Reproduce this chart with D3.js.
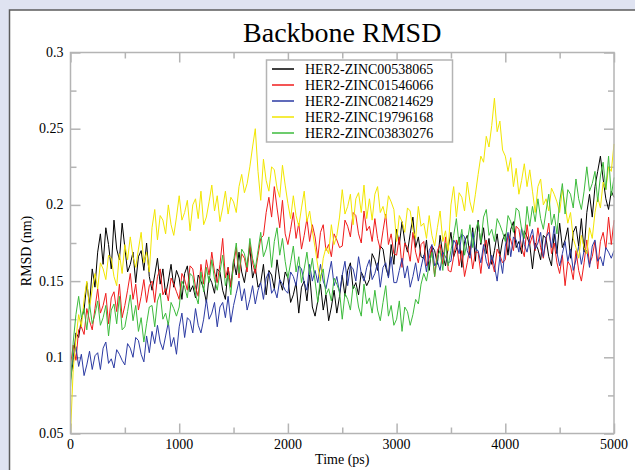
<!DOCTYPE html>
<html>
<head>
<meta charset="utf-8">
<title>Backbone RMSD</title>
<script src="https://cdn.jsdelivr.net/npm/d3@7"></script>
<style>
  body { margin: 0; background: #dfe3f1; }
</style>
</head>
<body>
<div id="chart"></div>
<script>
// sampling step of the traces (ps)
var step = 25;

var seriesNames = ["HER2-ZINC00538065", "HER2-ZINC01546066", "HER2-ZINC08214629",
                   "HER2-ZINC19796168", "HER2-ZINC03830276"];
var seriesColors = ["#000000", "#f01c1c", "#2b3aa3", "#f2e600", "#3cbb3c"];

var xTicks = [0, 1000, 2000, 3000, 4000, 5000];
var yTicks = [0.05, 0.1, 0.15, 0.2, 0.25, 0.3];

// RMSD (nm), one value every 25 ps, ten values per line (250 ps)
var rmsdBlack = [
  0.085,0.098,0.116,0.113,0.125,0.131,0.149,0.134,0.158,0.146,
  0.169,0.181,0.161,0.185,0.174,0.158,0.190,0.171,0.164,0.188,
  0.172,0.156,0.161,0.169,0.149,0.166,0.170,0.157,0.175,0.153,
  0.144,0.154,0.165,0.148,0.158,0.141,0.150,0.161,0.146,0.157,
  0.152,0.138,0.155,0.160,0.143,0.147,0.139,0.154,0.150,0.145,
  0.136,0.153,0.149,0.142,0.158,0.156,0.144,0.138,0.159,0.146,
  0.164,0.154,0.169,0.156,0.149,0.161,0.172,0.152,0.159,0.146,
  0.149,0.161,0.141,0.157,0.154,0.145,0.164,0.151,0.144,0.156,
  0.152,0.136,0.141,0.149,0.129,0.146,0.150,0.137,0.155,0.133,
  0.127,0.137,0.148,0.131,0.141,0.124,0.133,0.144,0.129,0.140,
  0.154,0.140,0.157,0.162,0.145,0.149,0.141,0.156,0.152,0.147,
  0.151,0.168,0.164,0.157,0.173,0.171,0.159,0.153,0.174,0.161,
  0.184,0.174,0.189,0.176,0.169,0.181,0.192,0.172,0.179,0.166,
  0.165,0.177,0.157,0.173,0.170,0.161,0.180,0.167,0.160,0.172,
  0.182,0.166,0.171,0.179,0.159,0.176,0.180,0.167,0.185,0.163,
  0.190,0.174,0.185,0.168,0.178,0.161,0.170,0.181,0.166,0.177,
  0.181,0.167,0.184,0.189,0.172,0.176,0.168,0.183,0.179,0.174,
  0.158,0.175,0.171,0.164,0.180,0.178,0.166,0.160,0.181,0.168,
  0.188,0.172,0.177,0.185,0.165,0.182,0.186,0.173,0.191,0.169,
  0.195,0.207,0.192,0.212,0.222,0.232,0.217,0.204,0.197,0.209,
  0.205];

var rmsdRed = [
  0.095,0.108,0.098,0.118,0.120,0.115,0.132,0.124,0.118,0.132,
  0.145,0.129,0.134,0.142,0.122,0.139,0.143,0.130,0.148,0.126,
  0.134,0.144,0.155,0.138,0.148,0.131,0.140,0.151,0.136,0.147,
  0.150,0.136,0.153,0.158,0.141,0.145,0.137,0.152,0.148,0.143,
  0.138,0.155,0.151,0.144,0.160,0.158,0.146,0.140,0.161,0.148,
  0.164,0.154,0.169,0.156,0.149,0.161,0.178,0.152,0.159,0.146,
  0.160,0.172,0.152,0.168,0.165,0.156,0.175,0.162,0.155,0.167,
  0.178,0.180,0.195,0.205,0.192,0.212,0.198,0.185,0.203,0.181,
  0.174,0.184,0.195,0.178,0.188,0.171,0.180,0.191,0.176,0.187,
  0.179,0.165,0.182,0.187,0.170,0.174,0.166,0.181,0.177,0.172,
  0.173,0.190,0.186,0.179,0.195,0.193,0.181,0.175,0.196,0.183,
  0.186,0.176,0.191,0.178,0.171,0.183,0.194,0.174,0.181,0.168,
  0.167,0.179,0.159,0.175,0.172,0.163,0.182,0.169,0.162,0.174,
  0.176,0.160,0.165,0.173,0.153,0.170,0.174,0.161,0.179,0.157,
  0.156,0.166,0.177,0.160,0.170,0.153,0.162,0.173,0.158,0.169,
  0.169,0.155,0.172,0.177,0.160,0.164,0.156,0.171,0.167,0.162,
  0.164,0.181,0.177,0.170,0.186,0.184,0.172,0.166,0.187,0.174,
  0.180,0.170,0.185,0.172,0.165,0.177,0.188,0.168,0.175,0.162,
  0.155,0.167,0.147,0.163,0.160,0.151,0.170,0.157,0.150,0.162,
  0.177,0.161,0.166,0.176,0.158,0.176,0.182,0.171,0.192,0.174,
  0.190];

var rmsdBlue = [
  0.091,0.099,0.107,0.094,0.102,0.088,0.095,0.104,0.092,0.101,
  0.103,0.092,0.106,0.110,0.096,0.099,0.093,0.105,0.102,0.098,
  0.095,0.109,0.106,0.100,0.113,0.111,0.102,0.097,0.114,0.103,
  0.117,0.109,0.121,0.110,0.105,0.114,0.123,0.107,0.113,0.102,
  0.120,0.129,0.113,0.126,0.124,0.116,0.132,0.121,0.116,0.125,
  0.138,0.125,0.129,0.136,0.120,0.133,0.136,0.126,0.140,0.123,
  0.134,0.142,0.150,0.137,0.145,0.131,0.138,0.147,0.135,0.144,
  0.149,0.138,0.152,0.156,0.142,0.145,0.139,0.151,0.148,0.144,
  0.142,0.156,0.153,0.147,0.160,0.158,0.149,0.144,0.161,0.150,
  0.157,0.149,0.161,0.150,0.145,0.154,0.163,0.147,0.153,0.142,
  0.154,0.163,0.147,0.160,0.158,0.150,0.166,0.155,0.150,0.159,
  0.164,0.151,0.155,0.162,0.146,0.159,0.162,0.152,0.166,0.149,
  0.149,0.157,0.165,0.152,0.160,0.146,0.153,0.162,0.150,0.159,
  0.167,0.156,0.170,0.174,0.160,0.163,0.157,0.169,0.166,0.162,
  0.163,0.177,0.174,0.168,0.181,0.179,0.170,0.165,0.182,0.171,
  0.170,0.162,0.174,0.163,0.158,0.167,0.160,0.150,0.166,0.155,
  0.173,0.182,0.166,0.179,0.177,0.169,0.185,0.174,0.169,0.178,
  0.184,0.171,0.175,0.182,0.166,0.179,0.182,0.172,0.186,0.169,
  0.160,0.168,0.176,0.163,0.171,0.157,0.164,0.173,0.161,0.170,
  0.170,0.159,0.173,0.177,0.163,0.166,0.160,0.172,0.169,0.165,
  0.170];

var rmsdYellow = [
  0.050,0.092,0.112,0.128,0.120,0.138,0.150,0.132,0.145,0.155,
  0.145,0.162,0.158,0.151,0.167,0.165,0.153,0.147,0.168,0.155,
  0.174,0.164,0.179,0.166,0.159,0.171,0.182,0.162,0.169,0.156,
  0.185,0.197,0.177,0.193,0.190,0.181,0.200,0.187,0.180,0.192,
  0.206,0.190,0.195,0.203,0.183,0.200,0.204,0.191,0.209,0.187,
  0.192,0.202,0.213,0.196,0.206,0.189,0.198,0.209,0.194,0.205,
  0.202,0.195,0.212,0.220,0.208,0.214,0.225,0.238,0.250,0.222,
  0.203,0.230,0.216,0.209,0.225,0.223,0.211,0.205,0.226,0.213,
  0.201,0.191,0.206,0.193,0.186,0.198,0.209,0.189,0.196,0.183,
  0.172,0.160,0.150,0.165,0.172,0.168,0.187,0.174,0.180,0.192,
  0.210,0.194,0.199,0.207,0.187,0.204,0.208,0.195,0.213,0.191,
  0.204,0.190,0.207,0.212,0.195,0.199,0.191,0.206,0.202,0.197,
  0.176,0.193,0.189,0.182,0.198,0.196,0.184,0.178,0.199,0.186,
  0.188,0.178,0.193,0.180,0.173,0.185,0.196,0.176,0.183,0.170,
  0.200,0.212,0.192,0.208,0.205,0.196,0.215,0.202,0.195,0.207,
  0.220,0.232,0.228,0.245,0.238,0.252,0.270,0.248,0.255,0.236,
  0.232,0.222,0.231,0.212,0.224,0.207,0.216,0.227,0.212,0.223,
  0.209,0.195,0.212,0.217,0.200,0.204,0.196,0.211,0.207,0.202,
  0.195,0.210,0.200,0.188,0.195,0.178,0.172,0.165,0.180,0.172,
  0.168,0.185,0.178,0.195,0.205,0.198,0.215,0.210,0.225,0.222,
  0.240];

var rmsdGreen = [
  0.080,0.110,0.128,0.140,0.126,0.132,0.118,0.135,0.122,0.128,
  0.137,0.121,0.126,0.134,0.114,0.131,0.135,0.122,0.140,0.118,
  0.120,0.130,0.141,0.124,0.134,0.117,0.126,0.110,0.122,0.133,
  0.134,0.120,0.137,0.142,0.125,0.129,0.121,0.136,0.132,0.127,
  0.133,0.150,0.146,0.139,0.155,0.153,0.141,0.135,0.156,0.143,
  0.159,0.149,0.164,0.151,0.144,0.156,0.167,0.147,0.154,0.141,
  0.163,0.175,0.155,0.171,0.168,0.159,0.178,0.165,0.158,0.170,
  0.182,0.166,0.171,0.179,0.159,0.176,0.185,0.167,0.178,0.163,
  0.152,0.162,0.173,0.156,0.166,0.149,0.158,0.169,0.154,0.165,
  0.150,0.136,0.153,0.158,0.141,0.145,0.137,0.152,0.148,0.143,
  0.125,0.142,0.138,0.131,0.147,0.145,0.133,0.127,0.148,0.135,
  0.139,0.129,0.144,0.131,0.124,0.136,0.147,0.127,0.134,0.121,
  0.125,0.137,0.117,0.133,0.130,0.121,0.128,0.138,0.135,0.148,
  0.155,0.150,0.161,0.169,0.153,0.166,0.170,0.157,0.175,0.160,
  0.170,0.180,0.191,0.174,0.184,0.167,0.176,0.187,0.172,0.183,
  0.189,0.175,0.192,0.197,0.180,0.184,0.176,0.191,0.187,0.182,
  0.176,0.193,0.189,0.182,0.198,0.196,0.184,0.178,0.199,0.186,
  0.199,0.189,0.204,0.191,0.184,0.196,0.207,0.187,0.194,0.181,
  0.202,0.214,0.194,0.210,0.207,0.198,0.217,0.204,0.197,0.209,
  0.225,0.209,0.214,0.222,0.202,0.219,0.228,0.210,0.232,0.206,
  0.218];

var allSeries = [rmsdBlack, rmsdRed, rmsdBlue, rmsdYellow, rmsdGreen];

var serif = "Liberation Serif, Tinos, Times New Roman, Noto Serif, DejaVu Serif, FreeSerif, serif";

function drawChart() {
    var width = 635, height = 470;
    var left = 70.5, right = 614, top = 52.5, bottom = 433.5;

    var svg = d3.select("#chart").append("svg")
        .attr("width", width)
        .attr("height", height)
        .attr("font-family", serif)
        .style("display", "block");

    // white panel
    svg.append("rect")
        .attr("x", 9.5).attr("y", 10)
        .attr("width", 640).attr("height", 480)
        .style("fill", "#fff")
        .style("stroke", "#5c5c5c")
        .style("stroke-width", 1.5);

    var x = d3.scaleLinear().domain([0, 5000]).range([left, right]);
    var y = d3.scaleLinear().domain([0.05, 0.3]).range([bottom, top]);

    var axisColor = "#b4b4b4";
    var minorX = [500, 1500, 2500, 3500, 4500];
    var minorY = [0.075, 0.125, 0.175, 0.225, 0.275];

    // ticks pointing inward on all four sides
    function styleAxis(g) {
        g.select(".domain").remove();
        g.selectAll(".tick line").style("stroke", axisColor).style("stroke-width", 1.5);
        g.selectAll("text").remove();
    }
    svg.append("g").attr("transform", "translate(0," + bottom + ")")
        .call(d3.axisTop(x).tickValues(xTicks).tickSize(10)).call(styleAxis);
    svg.append("g").attr("transform", "translate(0," + bottom + ")")
        .call(d3.axisTop(x).tickValues(minorX).tickSize(6)).call(styleAxis);
    svg.append("g").attr("transform", "translate(0," + top + ")")
        .call(d3.axisBottom(x).tickValues(xTicks).tickSize(10)).call(styleAxis);
    svg.append("g").attr("transform", "translate(0," + top + ")")
        .call(d3.axisBottom(x).tickValues(minorX).tickSize(6)).call(styleAxis);
    svg.append("g").attr("transform", "translate(" + left + ",0)")
        .call(d3.axisRight(y).tickValues(yTicks).tickSize(10)).call(styleAxis);
    svg.append("g").attr("transform", "translate(" + left + ",0)")
        .call(d3.axisRight(y).tickValues(minorY).tickSize(6)).call(styleAxis);
    svg.append("g").attr("transform", "translate(" + right + ",0)")
        .call(d3.axisLeft(y).tickValues(yTicks).tickSize(10)).call(styleAxis);
    svg.append("g").attr("transform", "translate(" + right + ",0)")
        .call(d3.axisLeft(y).tickValues(minorY).tickSize(6)).call(styleAxis);

    // tick labels
    svg.selectAll(".xlab").data(xTicks).enter().append("text")
        .attr("class", "xlab")
        .attr("x", function(d) { return x(d); })
        .attr("y", bottom + 15)
        .attr("text-anchor", "middle")
        .attr("font-family", serif)
        .attr("font-size", 14)
        .text(function(d) { return d; });
    svg.selectAll(".ylab").data(yTicks).enter().append("text")
        .attr("class", "ylab")
        .attr("x", left - 7)
        .attr("y", function(d) { return y(d); })
        .attr("dy", "0.32em")
        .attr("text-anchor", "end")
        .attr("font-family", serif)
        .attr("font-size", 14)
        .text(function(d) { return d; });

    // traces
    var line = d3.line()
        .x(function(d, i) { return x(i * step); })
        .y(function(d) { return y(d); });

    svg.selectAll(".trace").data(allSeries).enter().append("path")
        .attr("class", "trace")
        .attr("d", line)
        .style("fill", "none")
        .style("stroke", function(d, i) { return seriesColors[i]; })
        .style("stroke-width", 1);

    // frame
    svg.append("rect")
        .attr("x", left).attr("y", top)
        .attr("width", right - left).attr("height", bottom - top)
        .style("fill", "none")
        .style("stroke", axisColor)
        .style("stroke-width", 1.5);

    // titles
    svg.append("text")
        .attr("x", (left + right) / 2).attr("y", 42)
        .attr("text-anchor", "middle")
        .attr("font-family", serif)
        .attr("font-size", 28)
        .text("Backbone RMSD");
    svg.append("text")
        .attr("x", (left + right) / 2).attr("y", 464)
        .attr("text-anchor", "middle")
        .attr("font-family", serif)
        .attr("font-size", 14)
        .text("Time (ps)");
    svg.append("text")
        .attr("transform", "translate(31," + ((top + bottom) / 2 + 8) + ") rotate(-90)")
        .attr("text-anchor", "middle")
        .attr("font-family", serif)
        .attr("font-size", 14)
        .text("RMSD (nm)");

    // legend
    var legend = svg.append("g");
    legend.append("rect")
        .attr("x", 266.5).attr("y", 60)
        .attr("width", 186).attr("height", 82)
        .style("fill", "#fff")
        .style("stroke", axisColor)
        .style("stroke-width", 1.5);
    var rows = legend.selectAll(".row").data(seriesNames).enter().append("g")
        .attr("class", "row")
        .attr("transform", function(d, i) { return "translate(0," + (69 + i * 16) + ")"; });
    rows.append("line")
        .attr("x1", 272).attr("x2", 294)
        .style("stroke", function(d, i) { return seriesColors[i]; })
        .style("stroke-width", 1.5);
    rows.append("text")
        .attr("x", 305)
        .attr("dy", "0.35em")
        .attr("font-family", serif)
        .attr("font-size", 14)
        .text(function(d) { return d; });
}

drawChart();
</script>
</body>
</html>
